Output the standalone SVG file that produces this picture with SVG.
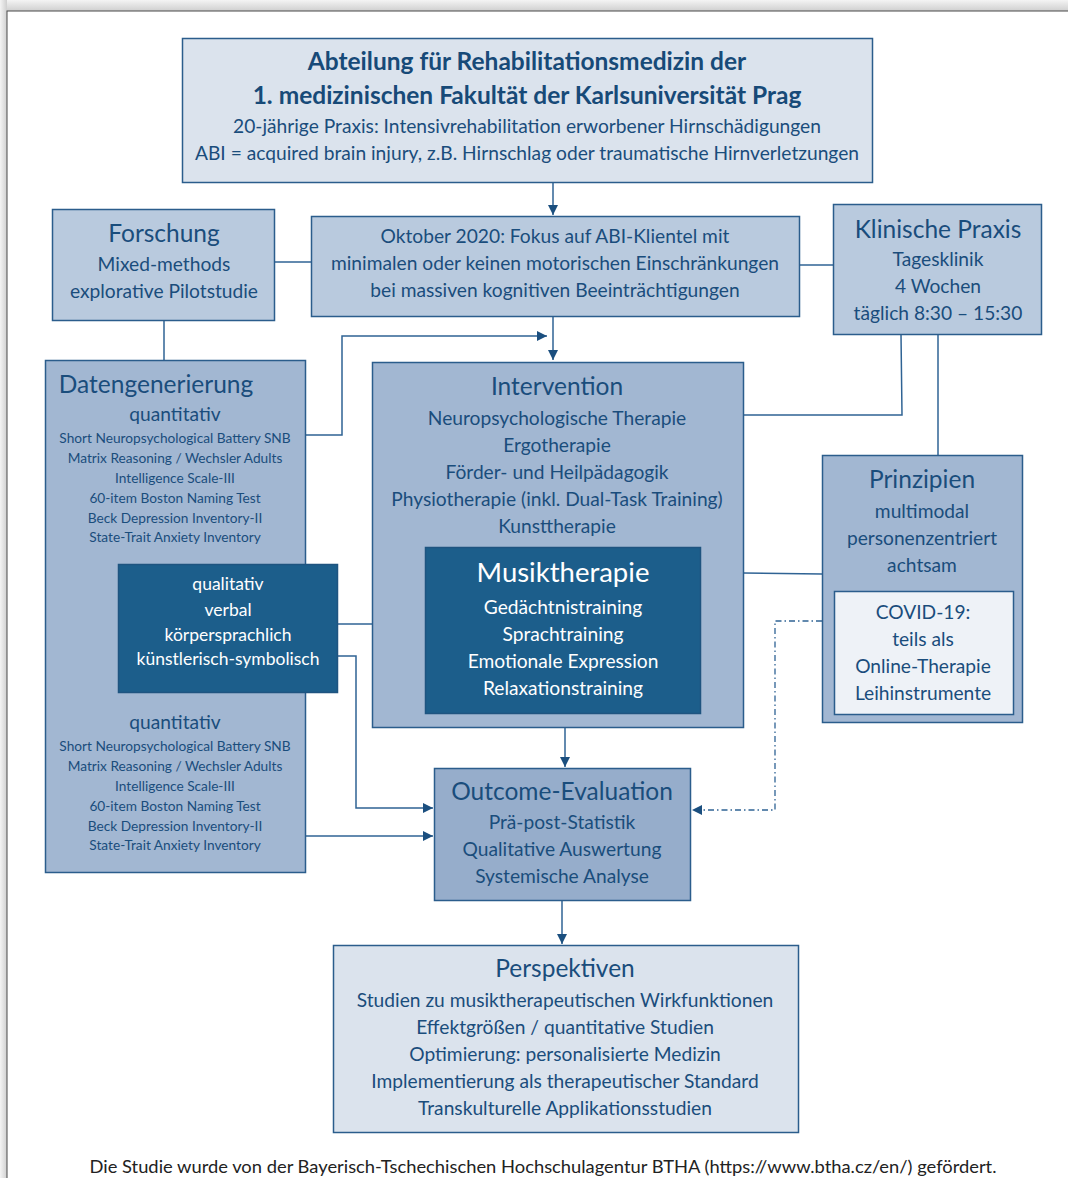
<svg xmlns="http://www.w3.org/2000/svg" width="1068" height="1178" viewBox="0 0 1068 1178">
  <defs>
    <linearGradient id="shadeTop" x1="0" y1="0" x2="0" y2="1">
      <stop offset="0" stop-color="#f4f4f4"/>
      <stop offset="1" stop-color="#cfcfcf"/>
    </linearGradient>
    <linearGradient id="shadeLeft" x1="0" y1="0" x2="1" y2="0">
      <stop offset="0" stop-color="#f4f4f4"/>
      <stop offset="1" stop-color="#cfcfcf"/>
    </linearGradient>
    <marker id="arrow" viewBox="0 0 10 10" refX="10" refY="5" markerWidth="10" markerHeight="10" markerUnits="userSpaceOnUse" orient="auto">
      <path d="M0,0 L10,5 L0,10 Z" fill="#1b4f7f"/>
    </marker>
    <style>
      text { font-family: Lato, "Open Sans", "Liberation Sans", sans-serif; fill: #1a4d7c; text-anchor: middle; }
      .title { font-weight: bold; font-size: 24.5px; fill: #174a78; }
      .head { font-size: 24.5px; }
      .body { font-size: 19.2px; }
      .qual { font-size: 17.5px; }
      .small { font-size: 13.7px; }
      .sub { font-size: 19.2px; }
      .light { fill: #ffffff; }
      .box { stroke: #2b5d8c; stroke-width: 1.5; }
      .pale { fill: #dbe3ed; }
      .mid { fill: #b9cade; }
      .blue { fill: #a2b7d2; }
      .deep { fill: #96adcb; }
      .dark { fill: #1c5e8b; stroke: #1f5480; stroke-width: 1.5; }
      .covid { fill: #eef2f7; }
      .link { fill: none; stroke: #2f6394; stroke-width: 1.5; }
      .dash { fill: none; stroke: #2f6394; stroke-width: 1.3; stroke-dasharray: 6 3 1.5 3; }
    </style>
  </defs>

  <!-- page background and sheet -->
  <rect x="0" y="0" width="1068" height="1178" fill="#e6e6e6"/>
  <rect x="0" y="0" width="1068" height="11" fill="url(#shadeTop)"/>
  <rect x="0" y="0" width="7" height="1178" fill="url(#shadeLeft)"/>
  <rect x="7" y="11" width="1070" height="1180" fill="#ffffff" stroke="#4a4a4a" stroke-width="1"/>

  <!-- connectors -->
  <g id="connectors">
    <path class="link" d="M553,182 V215" marker-end="url(#arrow)"/>
    <path class="link" d="M275,262 H311"/>
    <path class="link" d="M799,265 H833"/>
    <path class="link" d="M164,320 V360"/>
    <path class="link" d="M553,316 V360" marker-end="url(#arrow)"/>
    <path class="link" d="M305,435 H342 V336 H547" marker-end="url(#arrow)"/>
    <path class="link" d="M901,334 L902,415 H744"/>
    <path class="link" d="M938,334 V455"/>
    <path class="link" d="M337,624 H425"/>
    <path class="link" d="M743,573 L822,574"/>
    <path class="link" d="M337,656 H356 V808 H433" marker-end="url(#arrow)"/>
    <path class="link" d="M305,836 H433" marker-end="url(#arrow)"/>
    <path class="link" d="M565,727 V767" marker-end="url(#arrow)"/>
    <path class="dash" d="M822,621 H775 V810 H692" marker-end="url(#arrow)"/>
    <path class="link" d="M562,900 V944" marker-end="url(#arrow)"/>
  </g>

  <!-- department -->
  <g id="abteilung">
    <rect class="box pale" x="182.5" y="38.5" width="690" height="144"/>
    <text class="title" x="527" y="70">Abteilung für Rehabilitationsmedizin der</text>
    <text class="title" x="527" y="104">1. medizinischen Fakultät der Karlsuniversität Prag</text>
    <text class="body" x="527" y="133">20-jährige Praxis: Intensivrehabilitation erworbener Hirnschädigungen</text>
    <text class="body" x="527" y="160">ABI = acquired brain injury, z.B. Hirnschlag oder traumatische Hirnverletzungen</text>
  </g>

  <!-- research -->
  <g id="forschung">
    <rect class="box mid" x="52.5" y="209.5" width="222" height="111"/>
    <text class="head" x="164" y="242">Forschung</text>
    <text class="body" x="164" y="271">Mixed-methods</text>
    <text class="body" x="164" y="298">explorative Pilotstudie</text>
  </g>

  <!-- focus -->
  <g id="oktober">
    <rect class="box mid" x="311.5" y="216.5" width="488" height="100"/>
    <text class="body" x="555" y="243">Oktober 2020: Fokus auf ABI-Klientel mit</text>
    <text class="body" x="555" y="270">minimalen oder keinen motorischen Einschränkungen</text>
    <text class="body" x="555" y="297">bei massiven kognitiven Beeinträchtigungen</text>
  </g>

  <!-- clinical practice -->
  <g id="klinik">
    <rect class="box mid" x="833.5" y="204.5" width="208" height="130"/>
    <text class="head" x="938" y="238">Klinische Praxis</text>
    <text class="body" x="938" y="266">Tagesklinik</text>
    <text class="body" x="938" y="293">4 Wochen</text>
    <text class="body" x="938" y="320">täglich 8:30 – 15:30</text>
  </g>

  <!-- data collection -->
  <g id="datengenerierung">
    <rect class="box blue" x="45.5" y="360.5" width="260" height="512"/>
    <text class="head" x="156" y="393">Datengenerierung</text>
    <text class="sub" x="175" y="421">quantitativ</text>
    <text class="small" x="175" y="443">Short Neuropsychological Battery SNB</text>
    <text class="small" x="175" y="463">Matrix Reasoning / Wechsler Adults</text>
    <text class="small" x="175" y="483">Intelligence Scale-III</text>
    <text class="small" x="175" y="503">60-item Boston Naming Test</text>
    <text class="small" x="175" y="523">Beck Depression Inventory-II</text>
    <text class="small" x="175" y="542">State-Trait Anxiety Inventory</text>
    <text class="sub" x="175" y="729">quantitativ</text>
    <text class="small" x="175" y="751">Short Neuropsychological Battery SNB</text>
    <text class="small" x="175" y="771">Matrix Reasoning / Wechsler Adults</text>
    <text class="small" x="175" y="791">Intelligence Scale-III</text>
    <text class="small" x="175" y="811">60-item Boston Naming Test</text>
    <text class="small" x="175" y="831">Beck Depression Inventory-II</text>
    <text class="small" x="175" y="850">State-Trait Anxiety Inventory</text>
  </g>

  <g id="qualitativ">
    <rect class="dark" x="118.5" y="564.5" width="219" height="128"/>
    <text class="qual light" x="228" y="590">qualitativ</text>
    <text class="qual light" x="228" y="616">verbal</text>
    <text class="qual light" x="228" y="641">körpersprachlich</text>
    <text class="qual light" x="228" y="665">künstlerisch-symbolisch</text>
  </g>

  <!-- intervention -->
  <g id="intervention">
    <rect class="box blue" x="372.5" y="362.5" width="371" height="365"/>
    <text class="head" x="557" y="395">Intervention</text>
    <text class="body" x="557" y="425">Neuropsychologische Therapie</text>
    <text class="body" x="557" y="452">Ergotherapie</text>
    <text class="body" x="557" y="479">Förder- und Heilpädagogik</text>
    <text class="body" x="557" y="506">Physiotherapie (inkl. Dual-Task Training)</text>
    <text class="body" x="557" y="533">Kunsttherapie</text>
  </g>

  <g id="musiktherapie">
    <rect class="dark" x="425.5" y="547.5" width="275" height="166"/>
    <text class="light" x="563" y="582" font-size="27.5">Musiktherapie</text>
    <text class="body light" x="563" y="614">Gedächtnistraining</text>
    <text class="body light" x="563" y="641">Sprachtraining</text>
    <text class="body light" x="563" y="668">Emotionale Expression</text>
    <text class="body light" x="563" y="695">Relaxationstraining</text>
  </g>

  <!-- principles -->
  <g id="prinzipien">
    <rect class="box blue" x="822.5" y="455.5" width="200" height="267"/>
    <text class="head" x="922" y="488">Prinzipien</text>
    <text class="body" x="922" y="518">multimodal</text>
    <text class="body" x="922" y="545">personenzentriert</text>
    <text class="body" x="922" y="572">achtsam</text>
  </g>

  <g id="covid">
    <rect class="box covid" x="834.5" y="591.5" width="179" height="123"/>
    <text class="body" x="923" y="619">COVID-19:</text>
    <text class="body" x="923" y="646">teils als</text>
    <text class="body" x="923" y="673">Online-Therapie</text>
    <text class="body" x="923" y="700">Leihinstrumente</text>
  </g>

  <!-- evaluation -->
  <g id="outcome">
    <rect class="box deep" x="434.5" y="768.5" width="256" height="132"/>
    <text class="head" x="562" y="800">Outcome-Evaluation</text>
    <text class="body" x="562" y="829">Prä-post-Statistik</text>
    <text class="body" x="562" y="856">Qualitative Auswertung</text>
    <text class="body" x="562" y="883">Systemische Analyse</text>
  </g>

  <!-- outlook -->
  <g id="perspektiven">
    <rect class="box pale" x="333.5" y="945.5" width="465" height="187"/>
    <text class="head" x="565" y="977">Perspektiven</text>
    <text class="body" x="565" y="1007">Studien zu musiktherapeutischen Wirkfunktionen</text>
    <text class="body" x="565" y="1034">Effektgrößen / quantitative Studien</text>
    <text class="body" x="565" y="1061">Optimierung: personalisierte Medizin</text>
    <text class="body" x="565" y="1088">Implementierung als therapeutischer Standard</text>
    <text class="body" x="565" y="1115">Transkulturelle Applikationsstudien</text>
  </g>

  <!-- funding note -->
  <text x="543" y="1173" font-size="17" style="fill:#222222" textLength="907" lengthAdjust="spacingAndGlyphs">Die Studie wurde von der Bayerisch-Tschechischen Hochschulagentur BTHA (https://www.btha.cz/en/) gefördert.</text>
</svg>
